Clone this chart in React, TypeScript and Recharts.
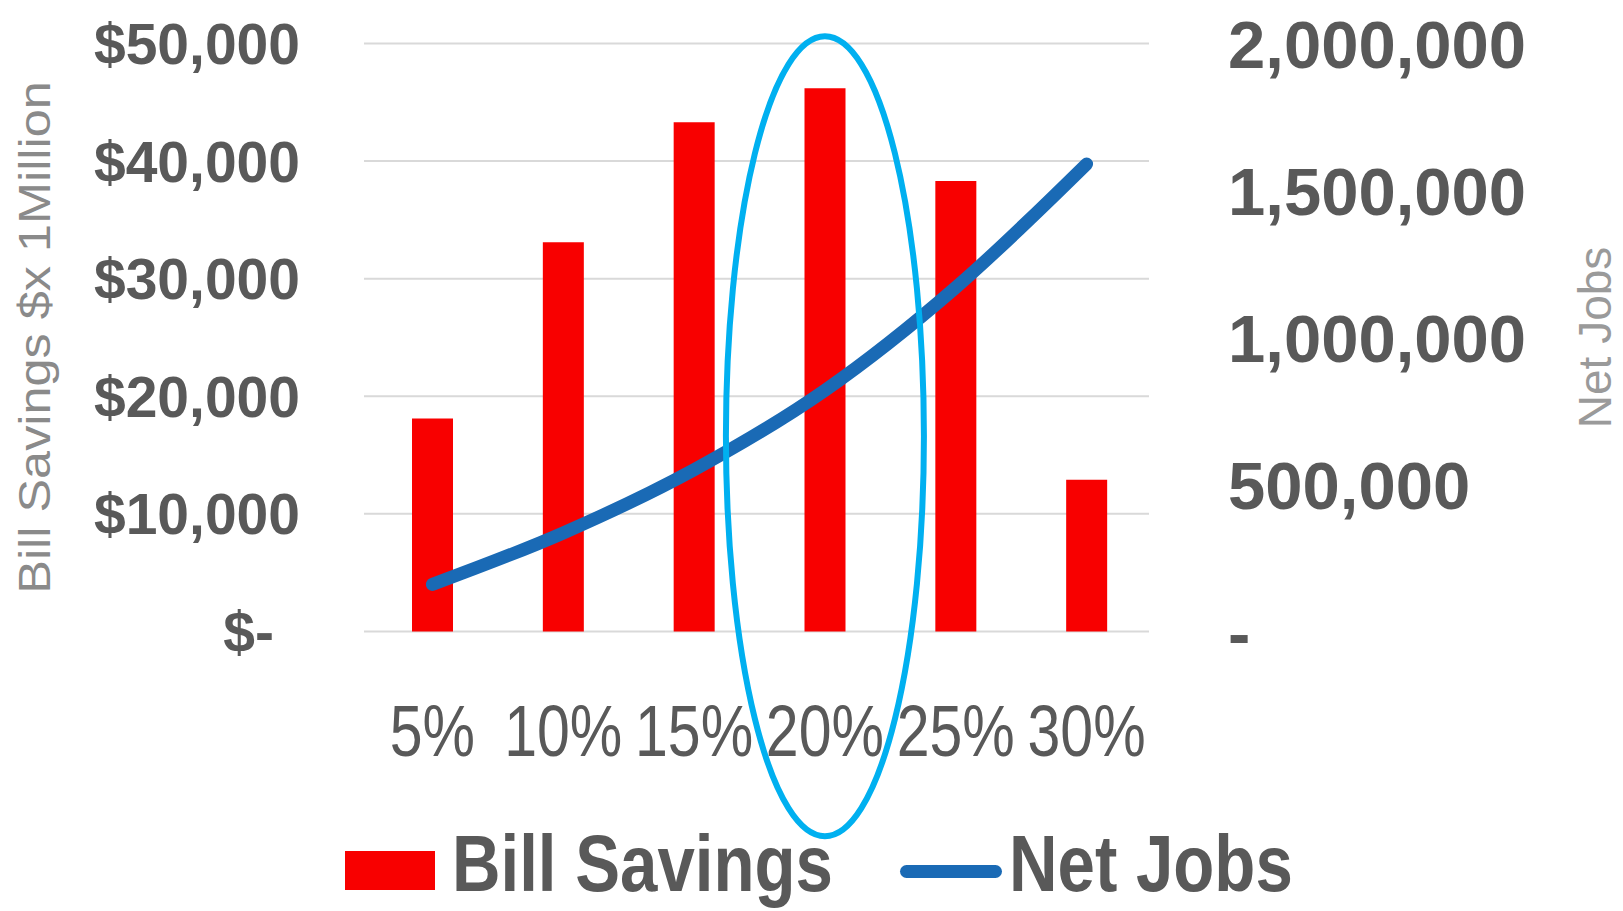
import React from 'react';
import { ComposedChart, Bar, Line, XAxis, YAxis, CartesianGrid, Legend, ReferenceDot } from 'recharts';

const categories = ['5%', '10%', '15%', '20%', '25%', '30%'];
const billSavings = [18100, 33100, 43300, 46200, 38300, 12900];
const netJobs = [160000, 335000, 550000, 820000, 1170000, 1590000];
const leftTicks = [0, 10000, 20000, 30000, 40000, 50000];
const leftTickLabels = ['$-', '$10,000', '$20,000', '$30,000', '$40,000', '$50,000'];
const rightTicks = [0, 500000, 1000000, 1500000, 2000000];
const rightTickLabels = ['-', '500,000', '1,000,000', '1,500,000', '2,000,000'];
const seriesNames = ['Bill Savings', 'Net Jobs'];
const highlightCategory = '20%';
const highlightValue = 16600;

const data = categories.map((c, i) => ({ category: c, billSavings: billSavings[i], netJobs: netJobs[i] }));

const FONT = "'Liberation Sans', Arial, sans-serif";
const TEXT = '#595959';
const RED = '#F80000';
const BLUE = '#1a6ab5';

const LeftTick = (props: any) => {
  const { x, y, payload } = props;
  const idx = leftTicks.indexOf(payload.value);
  const shift = payload.value === 0 ? -26 : 0;
  return (
    <text x={x + shift} y={y} dy="0.36em" textAnchor="end" fontFamily={FONT} fontSize={57} fontWeight="bold" fill={TEXT}>
      {leftTickLabels[idx]}
    </text>
  );
};

const RightTick = (props: any) => {
  const { x, y, payload } = props;
  const idx = rightTicks.indexOf(payload.value);
  return (
    <text x={x} y={y} dy="0.36em" textAnchor="start" fontFamily={FONT} fontSize={67} fontWeight="bold" fill={TEXT}>
      {rightTickLabels[idx]}
    </text>
  );
};

const XTick = (props: any) => {
  const { x, y, payload } = props;
  return (
    <text transform={`translate(${x},${y + 124.6}) scale(0.82,1)`} x={0} y={0} textAnchor="middle" fontFamily={FONT} fontSize={72} fill={TEXT}>
      {payload.value}
    </text>
  );
};

const LeftTitle = (props: any) => {
  const vb = props.viewBox || { x: 0, y: 0, width: 0, height: 0 };
  const cx = vb.x + 34;
  const cy = vb.y + vb.height / 2;
  return (
    <text transform={`translate(${cx},${cy}) rotate(-90) scale(1.12,1)`} x={0} y={0} dy="0.36em" textAnchor="middle" fontFamily={FONT} fontSize={45} fill="#8a8a8a">
      Bill Savings $x 1Million
    </text>
  );
};

const RightTitle = (props: any) => {
  const vb = props.viewBox || { x: 0, y: 0, width: 0, height: 0 };
  const cx = vb.x + 445;
  const cy = vb.y + vb.height / 2;
  return (
    <text transform={`translate(${cx},${cy}) rotate(-90)`} x={0} y={0} dy="0.36em" textAnchor="middle" fontFamily={FONT} fontSize={46} fill="#9a9a9a">
      Net Jobs
    </text>
  );
};

const EllipseShape = (props: any) => {
  const { cx, cy } = props;
  return <ellipse cx={cx} cy={cy} rx={99} ry={400} fill="none" stroke="#00B0F0" strokeWidth={6} />;
};

const LegendContent = () => (
  <div style={{ position: 'relative', width: 1623, height: 0, fontFamily: FONT }}>
    <div style={{ position: 'absolute', left: 345, top: 851, width: 90, height: 39, background: RED }} />
    <div style={{ position: 'absolute', left: 452, top: 824, fontSize: 80, lineHeight: '80px', fontWeight: 'bold', color: TEXT, transform: 'scaleX(0.84)', transformOrigin: 'left center', whiteSpace: 'nowrap' }}>
      {seriesNames[0]}
    </div>
    <div style={{ position: 'absolute', left: 900, top: 865, width: 102, height: 13, borderRadius: 7, background: BLUE }} />
    <div style={{ position: 'absolute', left: 1009, top: 824, fontSize: 80, lineHeight: '80px', fontWeight: 'bold', color: TEXT, transform: 'scaleX(0.84)', transformOrigin: 'left center', whiteSpace: 'nowrap' }}>
      {seriesNames[1]}
    </div>
  </div>
);

export default function App() {
  return (
    <div style={{ position: 'absolute', left: 0, top: 0, width: 1623, height: 911, background: '#fff' }}>
      <ComposedChart width={1623} height={911} data={data} margin={{ top: 43.5, right: 0, bottom: 0, left: 0 }}>
        <CartesianGrid yAxisId="left" vertical={false} stroke="#d9d9d9" strokeWidth={2} />
        <XAxis dataKey="category" height={279.6} axisLine={false} tickLine={false} tickSize={0} tickMargin={0} tick={<XTick />} interval={0} padding={{ left: 3, right: -3 }} />
        <YAxis
          yAxisId="left"
          orientation="left"
          width={364}
          domain={[0, 50000]}
          ticks={leftTicks}
          axisLine={false}
          tickLine={false}
          tickSize={0}
          tickMargin={64}
          tick={<LeftTick />}
          label={{ content: <LeftTitle /> }}
        />
        <YAxis
          yAxisId="right"
          orientation="right"
          width={474}
          domain={[0, 2000000]}
          ticks={rightTicks}
          axisLine={false}
          tickLine={false}
          tickSize={0}
          tickMargin={79}
          tick={<RightTick />}
          label={{ content: <RightTitle /> }}
        />
        <Legend content={<LegendContent />} wrapperStyle={{ left: 0, top: 0, bottom: 'auto', width: 1623, height: 0 }} />
        <Bar yAxisId="left" dataKey="billSavings" name={seriesNames[0]} fill={RED} barSize={41} isAnimationActive={false} />
        <Line yAxisId="right" dataKey="netJobs" name={seriesNames[1]} type="monotone" stroke={BLUE} strokeWidth={13} strokeLinecap="round" dot={false} activeDot={false} isAnimationActive={false} />
        <ReferenceDot yAxisId="left" x={highlightCategory} y={highlightValue} ifOverflow="visible" shape={<EllipseShape />} />
      </ComposedChart>
    </div>
  );
}
